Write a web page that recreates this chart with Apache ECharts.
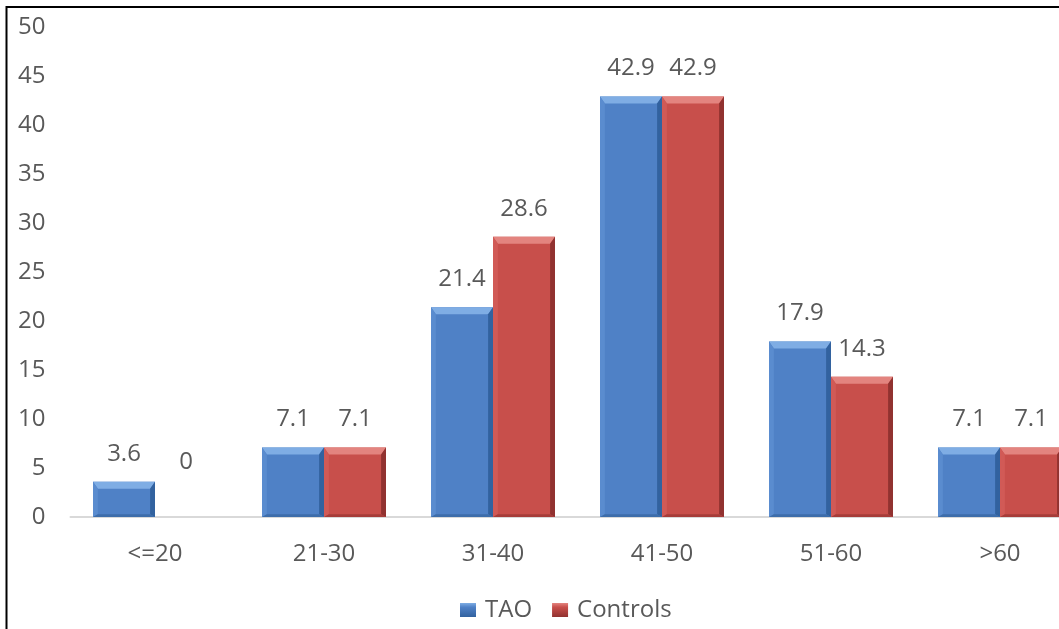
<!DOCTYPE html>
<html>
<head>
<meta charset="utf-8">
<title>Age distribution: TAO vs Controls</title>
<script src="https://cdn.jsdelivr.net/npm/echarts@6/dist/echarts.min.js"></script>
<style>
  html, body { margin: 0; padding: 0; background: #ffffff; overflow: hidden; }
  /* the canvas is wider than the window so the last category runs off the right edge */
  #chart { width: 1100px; height: 629px; }
</style>
</head>
<body>
<div id="chart"></div>
<script>
// Age groups and the percentage of each group in the two cohorts
const categories = ['<=20', '21-30', '31-40', '41-50', '51-60', '>60'];
const taoValues = [3.6, 7.1, 21.4, 42.9, 17.9, 7.1];
const controlValues = [0, 7.1, 28.6, 42.9, 14.3, 7.1];
const seriesNames = ['TAO', 'Controls'];
const yMin = 0, yMax = 50, yStep = 5;

const FONT = '"Open Sans", "Noto Sans", sans-serif';
const TEXT_COLOR = '#595959';
const BAR_RATIO = 62 / 169;   // bar width as a share of the category band
const BEVEL = 7;              // size of the bevelled edge, px
const LABEL_RAISE = 28;       // value label centre above the bar top
const ZERO_LABEL_RAISE = 55;  // label of an empty bar sits a bit higher

const palettes = {
  TAO:      { face: '#4f81c6', light: '#7fade4', side: '#5a8ccf', dark: '#32629f', bottom: '#3d6daa' },
  Controls: { face: '#c84f4b', light: '#e3847f', side: '#d15a56', dark: '#913230', bottom: '#a63c39' }
};

function bevelBar(pal, side) {
  return function (params, api) {
    const idx = api.value(0);
    const val = api.value(1);
    const band = api.size([1, 0])[0];
    const w = band * BAR_RATIO;
    const base = api.coord([idx, 0]);
    const topPt = api.coord([idx, val]);
    const x0 = base[0] + (side < 0 ? -w : 0);
    const x1 = x0 + w;
    const yTop = topPt[1];
    const yBot = base[1];
    const h = yBot - yTop;
    const children = [];
    if (h > 0.5) {
      const b = Math.min(BEVEL, h / 2, w / 2);
      const bs = b * 0.7;
      children.push({ type: 'rect', shape: { x: x0, y: yTop, width: w, height: h }, style: { fill: pal.face } });
      // top facet
      children.push({ type: 'polygon', shape: { points: [[x0, yTop], [x1, yTop], [x1 - bs, yTop + b], [x0 + bs, yTop + b]] }, style: { fill: pal.light } });
      // left facet
      children.push({ type: 'polygon', shape: { points: [[x0, yTop], [x0 + bs, yTop + b], [x0 + bs, yBot - b * 0.4], [x0, yBot]] }, style: { fill: pal.side } });
      // right facet
      children.push({ type: 'polygon', shape: { points: [[x1, yTop], [x1 - bs, yTop + b], [x1 - bs, yBot - b * 0.4], [x1, yBot]] }, style: { fill: pal.dark } });
      // bottom facet
      children.push({ type: 'polygon', shape: { points: [[x0, yBot], [x0 + bs, yBot - b * 0.4], [x1 - bs, yBot - b * 0.4], [x1, yBot]] }, style: { fill: pal.bottom } });
    }
    const raise = h > 0.5 ? LABEL_RAISE : ZERO_LABEL_RAISE;
    children.push({
      type: 'text',
      style: {
        text: String(val),
        x: (x0 + x1) / 2,
        y: yTop - raise,
        align: 'center',
        verticalAlign: 'middle',
        font: '24px ' + FONT,
        fill: TEXT_COLOR
      }
    });
    return { type: 'group', children: children };
  };
}

function legendIcon(pal) {
  return {
    type: 'linear', x: 0, y: 0, x2: 0, y2: 1,
    colorStops: [
      { offset: 0, color: pal.light },
      { offset: 0.3, color: pal.face },
      { offset: 1, color: pal.dark }
    ]
  };
}

const chart = echarts.init(document.getElementById('chart'), null, { renderer: 'canvas' });

chart.setOption({
  backgroundColor: '#ffffff',
  animation: false,
  textStyle: { fontFamily: FONT },
  grid: { left: 70.5, width: 1014, top: 27, height: 490, containLabel: false },
  legend: {
    left: 455,
    top: 593,
    itemWidth: 16,
    itemHeight: 14,
    itemGap: 20,
    icon: 'rect',
    textStyle: { fontSize: 24, color: TEXT_COLOR, fontFamily: FONT, padding: [0, 0, 0, 4] },
    data: seriesNames.map(function (n) {
      return { name: n, itemStyle: { color: legendIcon(palettes[n]) } };
    })
  },
  xAxis: {
    type: 'category',
    data: categories,
    axisLine: { show: true, lineStyle: { color: '#d9d9d9', width: 2 } },
    axisTick: { show: false },
    axisLabel: { color: TEXT_COLOR, fontSize: 24, fontFamily: FONT, margin: 25 },
    splitLine: { show: false }
  },
  yAxis: {
    type: 'value',
    min: yMin,
    max: yMax,
    interval: yStep,
    axisLine: { show: false },
    axisTick: { show: false },
    splitLine: { show: false },
    axisLabel: { color: TEXT_COLOR, fontSize: 24, fontFamily: FONT, margin: 25 }
  },
  graphic: [{
    type: 'rect',
    shape: { x: 6.5, y: 7, width: 2000, height: 2000 },
    style: { fill: 'none', stroke: '#000000', lineWidth: 2 },
    silent: true,
    z: 100
  }],
  series: [
    {
      name: seriesNames[0],
      type: 'custom',
      renderItem: bevelBar(palettes.TAO, -1),
      encode: { x: 0, y: 1 },
      itemStyle: { color: palettes.TAO.face },
      clip: false,
      data: taoValues.map(function (v, i) { return [i, v]; })
    },
    {
      name: seriesNames[1],
      type: 'custom',
      renderItem: bevelBar(palettes.Controls, 1),
      encode: { x: 0, y: 1 },
      itemStyle: { color: palettes.Controls.face },
      clip: false,
      data: controlValues.map(function (v, i) { return [i, v]; })
    }
  ]
});
</script>
</body>
</html>
